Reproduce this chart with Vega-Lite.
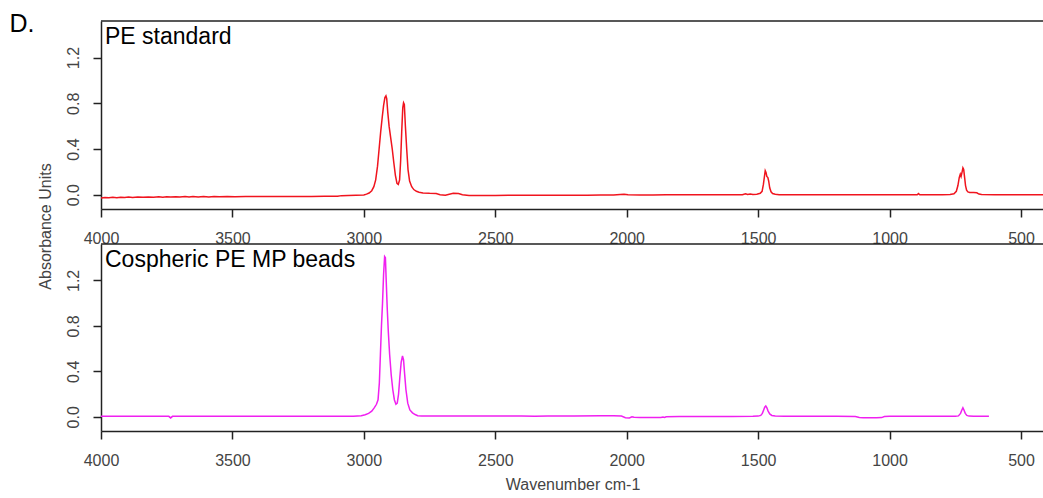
{
  "$schema": "https://vega.github.io/schema/vega-lite/v6.json",
  "background": "white",
  "padding": {"left": 8, "top": 10, "right": 0, "bottom": 0},
  "bounds": "flush",
  "spacing": 35,
  "config": {
    "font": "Liberation Sans",
    "view": {"stroke": "#222", "strokeWidth": 1.5, "strokeDash": [943, 3000]},
    "axis": {"domainColor": "#222", "domainWidth": 1.5, "tickColor": "#222", "tickWidth": 1.5, "tickSize": 8, "labelFont": "Liberation Sans", "labelFontSize": 16, "labelColor": "#444", "titleFont": "Liberation Sans", "titleFontSize": 16, "titleFontWeight": "normal", "titleColor": "#444", "grid": false, "labelFlush": false},
    "axisX": {"labelPadding": 13, "titlePadding": 8, "format": "d"},
    "axisY": {"labelAngle": 270, "labelAlign": "center", "labelBaseline": "bottom", "labelPadding": 12, "titlePadding": 12}
  },
  "datasets": {
    "pe": [
      {"wavenumber": 4000, "absorbance": -0.028}, {"wavenumber": 3985, "absorbance": -0.024}, {"wavenumber": 3970, "absorbance": -0.027}, {"wavenumber": 3955, "absorbance": -0.023}, {"wavenumber": 3940, "absorbance": -0.026}, {"wavenumber": 3925, "absorbance": -0.022}, {"wavenumber": 3910, "absorbance": -0.025}, {"wavenumber": 3895, "absorbance": -0.021}, {"wavenumber": 3880, "absorbance": -0.024}, {"wavenumber": 3860, "absorbance": -0.02}, {"wavenumber": 3840, "absorbance": -0.023}, {"wavenumber": 3820, "absorbance": -0.019}, {"wavenumber": 3800, "absorbance": -0.022}, {"wavenumber": 3780, "absorbance": -0.018}, {"wavenumber": 3765, "absorbance": -0.022}, {"wavenumber": 3750, "absorbance": -0.017}, {"wavenumber": 3735, "absorbance": -0.021}, {"wavenumber": 3715, "absorbance": -0.017}, {"wavenumber": 3700, "absorbance": -0.02}, {"wavenumber": 3680, "absorbance": -0.016}, {"wavenumber": 3665, "absorbance": -0.02}, {"wavenumber": 3650, "absorbance": -0.015}, {"wavenumber": 3630, "absorbance": -0.019}, {"wavenumber": 3610, "absorbance": -0.016}, {"wavenumber": 3590, "absorbance": -0.019}, {"wavenumber": 3570, "absorbance": -0.015}, {"wavenumber": 3550, "absorbance": -0.018}, {"wavenumber": 3520, "absorbance": -0.016}, {"wavenumber": 3490, "absorbance": -0.017}, {"wavenumber": 3450, "absorbance": -0.016}, {"wavenumber": 3400, "absorbance": -0.016}, {"wavenumber": 3350, "absorbance": -0.015}, {"wavenumber": 3300, "absorbance": -0.016}, {"wavenumber": 3250, "absorbance": -0.015}, {"wavenumber": 3200, "absorbance": -0.015}, {"wavenumber": 3150, "absorbance": -0.014}, {"wavenumber": 3100, "absorbance": -0.014}, {"wavenumber": 3085, "absorbance": -0.008}, {"wavenumber": 3060, "absorbance": -0.006}, {"wavenumber": 3030, "absorbance": -0.005}, {"wavenumber": 3000, "absorbance": -0.003}, {"wavenumber": 2990, "absorbance": 0.005}, {"wavenumber": 2980, "absorbance": 0.015}, {"wavenumber": 2970, "absorbance": 0.035}, {"wavenumber": 2962, "absorbance": 0.07}, {"wavenumber": 2955, "absorbance": 0.13}, {"wavenumber": 2948, "absorbance": 0.25}, {"wavenumber": 2942, "absorbance": 0.4}, {"wavenumber": 2936, "absorbance": 0.55}, {"wavenumber": 2930, "absorbance": 0.68}, {"wavenumber": 2925, "absorbance": 0.78}, {"wavenumber": 2920, "absorbance": 0.85}, {"wavenumber": 2916, "absorbance": 0.865}, {"wavenumber": 2913, "absorbance": 0.84}, {"wavenumber": 2909, "absorbance": 0.72}, {"wavenumber": 2904, "absorbance": 0.6}, {"wavenumber": 2898, "absorbance": 0.5}, {"wavenumber": 2892, "absorbance": 0.4}, {"wavenumber": 2886, "absorbance": 0.28}, {"wavenumber": 2880, "absorbance": 0.17}, {"wavenumber": 2874, "absorbance": 0.1}, {"wavenumber": 2869, "absorbance": 0.09}, {"wavenumber": 2864, "absorbance": 0.13}, {"wavenumber": 2860, "absorbance": 0.3}, {"wavenumber": 2856, "absorbance": 0.55}, {"wavenumber": 2852, "absorbance": 0.76}, {"wavenumber": 2849, "absorbance": 0.805}, {"wavenumber": 2846, "absorbance": 0.79}, {"wavenumber": 2842, "absorbance": 0.6}, {"wavenumber": 2837, "absorbance": 0.4}, {"wavenumber": 2832, "absorbance": 0.22}, {"wavenumber": 2826, "absorbance": 0.12}, {"wavenumber": 2818, "absorbance": 0.07}, {"wavenumber": 2810, "absorbance": 0.045}, {"wavenumber": 2800, "absorbance": 0.03}, {"wavenumber": 2790, "absorbance": 0.022}, {"wavenumber": 2775, "absorbance": 0.016}, {"wavenumber": 2750, "absorbance": 0.012}, {"wavenumber": 2725, "absorbance": 0.01}, {"wavenumber": 2710, "absorbance": 0.0}, {"wavenumber": 2690, "absorbance": -0.004}, {"wavenumber": 2675, "absorbance": 0.004}, {"wavenumber": 2660, "absorbance": 0.012}, {"wavenumber": 2640, "absorbance": 0.01}, {"wavenumber": 2625, "absorbance": 0.0}, {"wavenumber": 2600, "absorbance": -0.006}, {"wavenumber": 2550, "absorbance": -0.007}, {"wavenumber": 2500, "absorbance": -0.006}, {"wavenumber": 2450, "absorbance": -0.005}, {"wavenumber": 2400, "absorbance": -0.005}, {"wavenumber": 2350, "absorbance": -0.004}, {"wavenumber": 2300, "absorbance": -0.005}, {"wavenumber": 2250, "absorbance": -0.004}, {"wavenumber": 2200, "absorbance": -0.004}, {"wavenumber": 2150, "absorbance": -0.004}, {"wavenumber": 2100, "absorbance": -0.003}, {"wavenumber": 2050, "absorbance": -0.003}, {"wavenumber": 2025, "absorbance": 0.002}, {"wavenumber": 2010, "absorbance": 0.004}, {"wavenumber": 1995, "absorbance": 0.0}, {"wavenumber": 1950, "absorbance": -0.002}, {"wavenumber": 1900, "absorbance": -0.002}, {"wavenumber": 1850, "absorbance": -0.001}, {"wavenumber": 1800, "absorbance": -0.001}, {"wavenumber": 1750, "absorbance": -0.001}, {"wavenumber": 1700, "absorbance": 0.0}, {"wavenumber": 1650, "absorbance": 0.0}, {"wavenumber": 1600, "absorbance": 0.0}, {"wavenumber": 1560, "absorbance": 0.0}, {"wavenumber": 1548, "absorbance": 0.008}, {"wavenumber": 1540, "absorbance": 0.002}, {"wavenumber": 1530, "absorbance": 0.007}, {"wavenumber": 1520, "absorbance": 0.002}, {"wavenumber": 1505, "absorbance": 0.004}, {"wavenumber": 1492, "absorbance": 0.012}, {"wavenumber": 1485, "absorbance": 0.03}, {"wavenumber": 1480, "absorbance": 0.09}, {"wavenumber": 1476, "absorbance": 0.16}, {"wavenumber": 1473, "absorbance": 0.21}, {"wavenumber": 1470, "absorbance": 0.195}, {"wavenumber": 1467, "absorbance": 0.16}, {"wavenumber": 1463, "absorbance": 0.15}, {"wavenumber": 1460, "absorbance": 0.12}, {"wavenumber": 1456, "absorbance": 0.06}, {"wavenumber": 1451, "absorbance": 0.025}, {"wavenumber": 1445, "absorbance": 0.01}, {"wavenumber": 1435, "absorbance": 0.004}, {"wavenumber": 1420, "absorbance": 0.0}, {"wavenumber": 1350, "absorbance": 0.0}, {"wavenumber": 1300, "absorbance": 0.0}, {"wavenumber": 1250, "absorbance": 0.0}, {"wavenumber": 1200, "absorbance": 0.0}, {"wavenumber": 1150, "absorbance": 0.0}, {"wavenumber": 1100, "absorbance": 0.0}, {"wavenumber": 1050, "absorbance": 0.0}, {"wavenumber": 1000, "absorbance": 0.0}, {"wavenumber": 950, "absorbance": 0.0}, {"wavenumber": 895, "absorbance": 0.0}, {"wavenumber": 890, "absorbance": 0.01}, {"wavenumber": 885, "absorbance": 0.0}, {"wavenumber": 850, "absorbance": 0.0}, {"wavenumber": 800, "absorbance": 0.0}, {"wavenumber": 770, "absorbance": 0.002}, {"wavenumber": 755, "absorbance": 0.008}, {"wavenumber": 746, "absorbance": 0.03}, {"wavenumber": 740, "absorbance": 0.08}, {"wavenumber": 735, "absorbance": 0.15}, {"wavenumber": 731, "absorbance": 0.18}, {"wavenumber": 728, "absorbance": 0.16}, {"wavenumber": 724, "absorbance": 0.2}, {"wavenumber": 721, "absorbance": 0.235}, {"wavenumber": 718, "absorbance": 0.22}, {"wavenumber": 715, "absorbance": 0.16}, {"wavenumber": 711, "absorbance": 0.08}, {"wavenumber": 707, "absorbance": 0.04}, {"wavenumber": 702, "absorbance": 0.025}, {"wavenumber": 695, "absorbance": 0.02}, {"wavenumber": 680, "absorbance": 0.019}, {"wavenumber": 668, "absorbance": 0.017}, {"wavenumber": 660, "absorbance": 0.006}, {"wavenumber": 650, "absorbance": 0.001}, {"wavenumber": 600, "absorbance": 0.0}, {"wavenumber": 550, "absorbance": 0.0}, {"wavenumber": 500, "absorbance": 0.0}, {"wavenumber": 450, "absorbance": 0.0}, {"wavenumber": 413, "absorbance": 0.0}
    ],
    "beads": [
      {"wavenumber": 4000, "absorbance": 0.004}, {"wavenumber": 3900, "absorbance": 0.004}, {"wavenumber": 3800, "absorbance": 0.004}, {"wavenumber": 3742, "absorbance": 0.004}, {"wavenumber": 3735, "absorbance": -0.01}, {"wavenumber": 3728, "absorbance": 0.004}, {"wavenumber": 3600, "absorbance": 0.004}, {"wavenumber": 3500, "absorbance": 0.004}, {"wavenumber": 3400, "absorbance": 0.004}, {"wavenumber": 3300, "absorbance": 0.004}, {"wavenumber": 3200, "absorbance": 0.004}, {"wavenumber": 3100, "absorbance": 0.004}, {"wavenumber": 3040, "absorbance": 0.005}, {"wavenumber": 3010, "absorbance": 0.01}, {"wavenumber": 2995, "absorbance": 0.018}, {"wavenumber": 2982, "absorbance": 0.03}, {"wavenumber": 2970, "absorbance": 0.05}, {"wavenumber": 2960, "absorbance": 0.08}, {"wavenumber": 2952, "absorbance": 0.11}, {"wavenumber": 2946, "absorbance": 0.15}, {"wavenumber": 2941, "absorbance": 0.3}, {"wavenumber": 2937, "absorbance": 0.55}, {"wavenumber": 2933, "absorbance": 0.8}, {"wavenumber": 2929, "absorbance": 1.0}, {"wavenumber": 2925, "absorbance": 1.25}, {"wavenumber": 2921, "absorbance": 1.41}, {"wavenumber": 2918, "absorbance": 1.4}, {"wavenumber": 2915, "absorbance": 1.2}, {"wavenumber": 2911, "absorbance": 0.95}, {"wavenumber": 2907, "absorbance": 0.75}, {"wavenumber": 2902, "absorbance": 0.55}, {"wavenumber": 2896, "absorbance": 0.37}, {"wavenumber": 2890, "absorbance": 0.24}, {"wavenumber": 2884, "absorbance": 0.15}, {"wavenumber": 2878, "absorbance": 0.11}, {"wavenumber": 2873, "absorbance": 0.12}, {"wavenumber": 2868, "absorbance": 0.2}, {"wavenumber": 2863, "absorbance": 0.35}, {"wavenumber": 2858, "absorbance": 0.48}, {"wavenumber": 2853, "absorbance": 0.535}, {"wavenumber": 2849, "absorbance": 0.5}, {"wavenumber": 2845, "absorbance": 0.38}, {"wavenumber": 2840, "absorbance": 0.24}, {"wavenumber": 2833, "absorbance": 0.12}, {"wavenumber": 2825, "absorbance": 0.06}, {"wavenumber": 2815, "absorbance": 0.035}, {"wavenumber": 2805, "absorbance": 0.02}, {"wavenumber": 2795, "absorbance": 0.01}, {"wavenumber": 2780, "absorbance": 0.006}, {"wavenumber": 2700, "absorbance": 0.006}, {"wavenumber": 2600, "absorbance": 0.006}, {"wavenumber": 2500, "absorbance": 0.006}, {"wavenumber": 2400, "absorbance": 0.006}, {"wavenumber": 2350, "absorbance": 0.004}, {"wavenumber": 2300, "absorbance": 0.006}, {"wavenumber": 2200, "absorbance": 0.008}, {"wavenumber": 2100, "absorbance": 0.01}, {"wavenumber": 2050, "absorbance": 0.01}, {"wavenumber": 2020, "absorbance": 0.006}, {"wavenumber": 2005, "absorbance": -0.008}, {"wavenumber": 1990, "absorbance": -0.01}, {"wavenumber": 1980, "absorbance": 0.0}, {"wavenumber": 1972, "absorbance": -0.004}, {"wavenumber": 1950, "absorbance": -0.006}, {"wavenumber": 1900, "absorbance": -0.006}, {"wavenumber": 1870, "absorbance": -0.006}, {"wavenumber": 1862, "absorbance": -0.002}, {"wavenumber": 1856, "absorbance": -0.006}, {"wavenumber": 1850, "absorbance": 0.0}, {"wavenumber": 1800, "absorbance": 0.002}, {"wavenumber": 1700, "absorbance": 0.003}, {"wavenumber": 1600, "absorbance": 0.003}, {"wavenumber": 1520, "absorbance": 0.004}, {"wavenumber": 1500, "absorbance": 0.006}, {"wavenumber": 1490, "absorbance": 0.012}, {"wavenumber": 1484, "absorbance": 0.03}, {"wavenumber": 1479, "absorbance": 0.06}, {"wavenumber": 1475, "absorbance": 0.085}, {"wavenumber": 1471, "absorbance": 0.095}, {"wavenumber": 1467, "absorbance": 0.08}, {"wavenumber": 1462, "absorbance": 0.05}, {"wavenumber": 1456, "absorbance": 0.025}, {"wavenumber": 1448, "absorbance": 0.012}, {"wavenumber": 1435, "absorbance": 0.006}, {"wavenumber": 1400, "absorbance": 0.004}, {"wavenumber": 1300, "absorbance": 0.004}, {"wavenumber": 1200, "absorbance": 0.004}, {"wavenumber": 1130, "absorbance": 0.003}, {"wavenumber": 1115, "absorbance": -0.006}, {"wavenumber": 1100, "absorbance": -0.008}, {"wavenumber": 1050, "absorbance": -0.008}, {"wavenumber": 1030, "absorbance": -0.007}, {"wavenumber": 1020, "absorbance": 0.002}, {"wavenumber": 1000, "absorbance": 0.004}, {"wavenumber": 900, "absorbance": 0.004}, {"wavenumber": 800, "absorbance": 0.004}, {"wavenumber": 750, "absorbance": 0.005}, {"wavenumber": 738, "absorbance": 0.008}, {"wavenumber": 730, "absorbance": 0.03}, {"wavenumber": 725, "absorbance": 0.06}, {"wavenumber": 721, "absorbance": 0.08}, {"wavenumber": 717, "absorbance": 0.06}, {"wavenumber": 712, "absorbance": 0.03}, {"wavenumber": 706, "absorbance": 0.012}, {"wavenumber": 698, "absorbance": 0.006}, {"wavenumber": 680, "absorbance": 0.005}, {"wavenumber": 650, "absorbance": 0.005}, {"wavenumber": 622, "absorbance": 0.005}
    ]
  },
  "vconcat": [
    {
      "width": 943,
      "height": 188,
      "layer": [
        {
          "data": {"name": "pe"},
          "mark": {"type": "line", "color": "#f0141e", "strokeWidth": 1.5, "clip": true},
          "encoding": {
            "x": {"field": "wavenumber", "type": "quantitative", "scale": {"domain": [412.5, 4000], "reverse": true, "nice": false, "zero": false}, "axis": {"values": [4000, 3500, 3000, 2500, 2000, 1500, 1000, 500], "title": null}},
            "y": {"field": "absorbance", "type": "quantitative", "scale": {"domain": [-0.125, 1.52], "nice": false, "zero": false}, "axis": {"values": [0, 0.4, 0.8, 1.2], "format": ".1f", "title": "D.", "titleAngle": 0, "titleAlign": "left", "titleBaseline": "alphabetic", "titleX": -92, "titleY": 10, "titleFontSize": 25, "titleColor": "black"}}
          }
        },
        {
          "data": {"values": [{"panel": "PE standard"}]},
          "mark": {"type": "text", "align": "left", "baseline": "alphabetic", "dx": 4, "dy": 23, "fontSize": 23, "font": "Liberation Sans", "color": "black"},
          "encoding": {
            "x": {"datum": 4000, "type": "quantitative"},
            "y": {"datum": 1.52, "type": "quantitative"},
            "text": {"field": "panel"}
          }
        }
      ]
    },
    {
      "width": 943,
      "height": 187,
      "layer": [
        {
          "data": {"name": "beads"},
          "mark": {"type": "line", "color": "#f020f0", "strokeWidth": 1.5, "clip": true},
          "encoding": {
            "x": {"field": "wavenumber", "type": "quantitative", "scale": {"domain": [412.5, 4000], "reverse": true, "nice": false, "zero": false}, "axis": {"values": [4000, 3500, 3000, 2500, 2000, 1500, 1000, 500], "title": "Wavenumber cm-1"}},
            "y": {"field": "absorbance", "type": "quantitative", "scale": {"domain": [-0.125, 1.52], "nice": false, "zero": false}, "axis": {"values": [0, 0.4, 0.8, 1.2], "format": ".1f", "title": "Absorbance Units", "titleY": -18}}
          }
        },
        {
          "data": {"values": [{"panel": "Cospheric PE MP beads"}]},
          "mark": {"type": "text", "align": "left", "baseline": "alphabetic", "dx": 4, "dy": 23, "fontSize": 23, "font": "Liberation Sans", "color": "black"},
          "encoding": {
            "x": {"datum": 4000, "type": "quantitative"},
            "y": {"datum": 1.52, "type": "quantitative"},
            "text": {"field": "panel"}
          }
        }
      ]
    }
  ]
}
